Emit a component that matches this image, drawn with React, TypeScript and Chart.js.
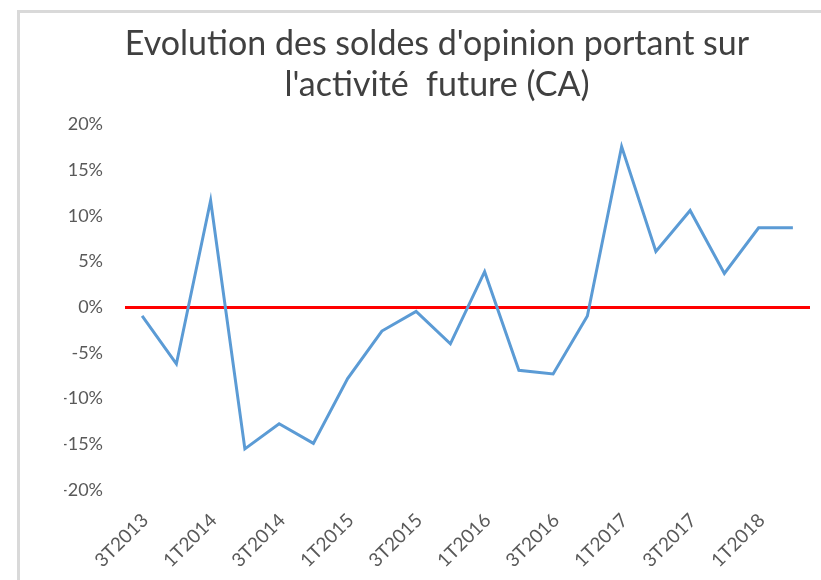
import React, { useEffect, useRef } from "react";
import { Chart, registerables } from "chart.js";

Chart.register(...registerables);

const quarters = [
  "3T2013", "4T2013", "1T2014", "2T2014", "3T2014", "4T2014",
  "1T2015", "2T2015", "3T2015", "4T2015", "1T2016", "2T2016",
  "3T2016", "4T2016", "1T2017", "2T2017", "3T2017", "4T2017",
  "1T2018", "2T2018",
];

const soldes = [
  -0.95, -6.2, 11.7, -15.5, -12.75, -14.9, -7.8, -2.6, -0.45, -4.0,
  3.9, -6.9, -7.3, -0.95, 17.6, 6.1, 10.6, 3.7, 8.7, 8.7,
];

const titleLines = [
  "Evolution des soldes d'opinion portant sur",
  "l'activité  future (CA)",
];

const yMin = -20;
const yMax = 20;
const yStep = 5;

export default function App() {
  const ref = useRef<HTMLCanvasElement | null>(null);

  useEffect(() => {
    if (!ref.current) return;
    const chart = new Chart(ref.current, {
      type: "line",
      data: {
        labels: quarters,
        datasets: [
          {
            label: "Solde",
            data: soldes,
            borderColor: "#5B9BD5",
            borderWidth: 3,
            pointRadius: 0,
            tension: 0,
            fill: false,
          },
        ],
      },
      options: {
        animation: false,
        responsive: false,
        devicePixelRatio: 1,
        layout: { padding: { left: 44, right: 44, top: 0, bottom: 0 } },
        plugins: {
          legend: { display: false },
          tooltip: { enabled: false },
          title: {
            display: true,
            text: titleLines,
            color: "#404040",
            font: { family: "Lato", size: 34, weight: "normal", lineHeight: 1.2 },
            padding: { top: 11, bottom: 19 },
          },
        },
        scales: {
          x: {
            offset: true,
            grid: { display: false, drawTicks: false },
            border: { display: false },
            ticks: {
              autoSkip: false,
              maxRotation: 45,
              minRotation: 45,
              padding: 19,
              labelOffset: 3,
              color: "#595959",
              font: { family: "Lato", size: 19 },
              callback: (_v: any, i: number) => (i % 2 === 0 ? quarters[i] : ""),
            },
            afterFit: (s: any) => {
              s.height = 90;
            },
          },
          y: {
            min: yMin,
            max: yMax,
            grid: {
              drawTicks: false,
              color: (c: any) => (c.tick && c.tick.value === 0 ? "#FF0000" : "rgba(0,0,0,0)"),
              lineWidth: (c: any) => (c.tick && c.tick.value === 0 ? 3 : 0),
            },
            border: { display: false },
            ticks: {
              stepSize: yStep,
              padding: 22,
              color: "#595959",
              font: { family: "Lato", size: 18 },
              callback: (v: any) => `${v}%`,
            },
            afterFit: (s: any) => {
              s.width = 61;
            },
          },
        },
      },
    });
    return () => chart.destroy();
  }, []);

  return (
    <div
      style={{
        position: "fixed",
        left: 0,
        top: 0,
        width: 821,
        height: 580,
        overflow: "hidden",
        background: "#fff",
      }}
    >
      <div
        style={{
          position: "absolute",
          left: 17,
          top: 10,
          width: 840,
          height: 600,
          borderLeft: "3px solid #d9d9d9",
          borderTop: "3px solid #d9d9d9",
        }}
      >
        <canvas
          ref={ref}
          width={834}
          height={567}
          style={{ display: "block", width: 834, height: 567 }}
        />
      </div>
    </div>
  );
}
